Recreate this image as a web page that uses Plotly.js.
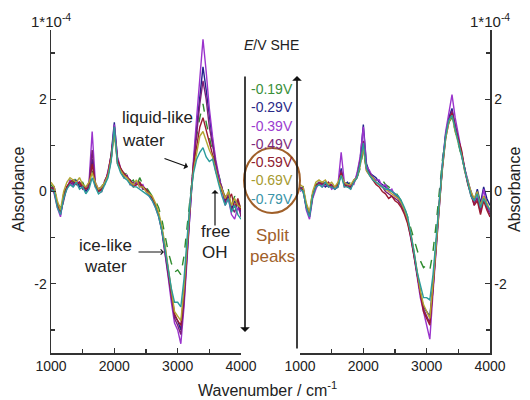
<!DOCTYPE html>
<html><head><meta charset="utf-8">
<script src="https://cdn.plot.ly/plotly-3.0.1.min.js"></script>
<style>html,body{margin:0;padding:0;background:#fff}#chart{width:530px;height:400px}</style>
</head><body><div id="chart"></div>
<script>
// wavenumber grid (cm^-1)
const wavenumber = [1000,1050,1100,1150,1200,1250,1300,1350,1400,1450,
 1500,1550,1600,1650,1700,1750,1800,1850,1900,1950,
 2000,2050,2100,2150,2200,2250,2300,2350,2400,2450,
 2500,2550,2600,2650,2700,2750,2800,2850,2900,2950,
 3000,3050,3100,3150,3200,3250,3300,3350,3400,3450,
 3500,3550,3600,3650,3700,3750,3800,3850,3900,3950,4000];

const potentials = ['-0.19V','-0.29V','-0.39V','-0.49V','-0.59V','-0.69V','-0.79V'];

// Left panel absorbance (1e-4)
const left_019 = [0.15,0.05,-0.25,-0.35,-0.05,0.15,0.25,0.2,0.3,0.15,
 0.2,0.05,0.15,0.5,0.1,0.05,0.1,0.25,0.35,0.7,
 1.35,0.65,0.5,0.35,0.4,0.2,0.25,0.1,0.3,0.15,
 0.1,0.0,-0.1,-0.2,-0.35,-0.6,-0.95,-1.3,-1.55,-1.75,
 -1.7,-1.8,-1.4,-0.8,-0.1,0.6,1.2,1.6,1.9,1.5,
 1.2,0.9,0.55,0.35,0.1,-0.15,0.05,-0.3,-0.1,-0.25,-0.35];
const left_029 = [0.05,0.1,-0.3,-0.5,-0.15,0.1,0.2,0.15,0.25,0.1,
 0.15,0.0,0.1,0.7,0.15,0.0,0.05,0.2,0.4,0.8,
 1.5,0.7,0.45,0.4,0.3,0.25,0.15,0.2,0.15,0.1,
 0.05,-0.05,-0.15,-0.3,-0.5,-0.8,-1.25,-1.75,-2.25,-2.7,
 -2.8,-3.0,-2.3,-1.3,-0.3,0.6,1.4,2.1,2.7,2.2,
 1.6,1.1,0.6,0.3,0.05,-0.2,-0.1,-0.4,-0.2,-0.3,-0.45];
const left_039 = [0.1,-0.05,-0.35,-0.55,-0.1,0.05,0.25,0.1,0.2,0.2,
 0.1,0.05,0.2,1.3,0.2,0.05,0.1,0.15,0.45,0.75,
 1.45,0.75,0.5,0.35,0.35,0.2,0.15,0.2,0.1,0.15,
 0.0,-0.1,-0.2,-0.35,-0.55,-0.85,-1.3,-1.85,-2.4,-2.85,
 -3.0,-3.3,-2.5,-1.4,-0.3,0.7,1.6,2.5,3.3,2.6,
 1.8,1.2,0.7,0.35,0.0,-0.3,-0.15,-0.5,-0.6,-0.35,-0.5];
const left_049 = [0.0,0.1,-0.3,-0.45,-0.2,0.1,0.15,0.2,0.15,0.2,
 0.05,0.1,0.15,0.9,0.1,0.05,0.0,0.25,0.35,0.7,
 1.4,0.6,0.5,0.3,0.35,0.15,0.2,0.15,0.2,0.05,
 0.05,-0.05,-0.15,-0.3,-0.5,-0.85,-1.3,-1.8,-2.3,-2.75,
 -2.9,-3.1,-2.4,-1.3,-0.25,0.6,1.3,1.9,2.4,2.0,
 1.4,1.0,0.6,0.25,0.1,-0.25,-0.05,-0.35,-0.45,-0.2,-0.55];
const left_059 = [0.1,0.0,-0.3,-0.45,-0.1,0.1,0.2,0.25,0.15,0.2,
 0.1,0.05,0.1,0.6,0.15,0.0,0.05,0.2,0.4,0.8,
 1.3,0.7,0.5,0.4,0.3,0.25,0.1,0.15,0.2,0.1,
 0.05,-0.05,-0.15,-0.3,-0.5,-0.8,-1.2,-1.7,-2.2,-2.65,
 -2.8,-2.9,-2.2,-1.2,-0.2,0.55,1.0,1.4,1.6,1.35,
 1.1,0.8,0.45,0.2,0.0,-0.1,-0.2,-0.05,-0.35,-0.15,-0.4];
const left_069 = [0.2,0.1,-0.2,-0.4,0.0,0.2,0.3,0.25,0.2,0.3,
 0.15,0.1,0.2,0.4,0.2,0.05,0.1,0.2,0.35,0.7,
 1.25,0.6,0.45,0.35,0.3,0.2,0.15,0.25,0.1,0.1,
 0.0,-0.05,-0.1,-0.25,-0.45,-0.75,-1.15,-1.65,-2.15,-2.6,
 -2.7,-2.8,-2.1,-1.1,-0.2,0.45,0.85,1.2,1.3,1.1,
 0.9,0.75,0.45,0.2,0.05,-0.15,0.0,-0.3,-0.15,-0.3,-0.35];
const left_079 = [0.05,0.0,-0.35,-0.5,-0.15,0.05,0.15,0.1,0.2,0.05,
 0.1,-0.05,0.05,0.3,0.1,-0.05,0.0,0.15,0.3,0.65,
 1.4,0.6,0.4,0.3,0.25,0.15,0.1,0.1,0.05,0.0,
 -0.05,-0.1,-0.2,-0.35,-0.55,-0.85,-1.25,-1.7,-2.1,-2.4,
 -2.4,-2.5,-1.9,-1.0,-0.15,0.4,0.7,0.85,0.95,0.75,
 0.65,0.7,0.4,0.15,-0.1,-0.3,-0.15,-0.45,-0.3,-0.5,-0.6];

// Right panel absorbance (1e-4)
const right_019 = [0.1,0.0,-0.3,-0.45,0.0,0.15,0.2,0.15,0.25,0.1,
 0.2,0.1,0.15,0.35,0.2,0.15,0.2,0.25,0.3,0.5,
 0.9,0.45,0.35,0.3,0.25,0.2,0.25,0.15,0.1,0.05,
 0.0,-0.1,-0.2,-0.35,-0.55,-0.8,-1.05,-1.3,-1.5,-1.65,
 -1.6,-1.7,-1.3,-0.7,0.0,0.7,1.2,1.5,1.6,1.3,
 1.0,0.75,0.5,0.2,-0.05,-0.2,0.0,-0.3,-0.1,-0.2,-0.35];
const right_029 = [0.05,0.1,-0.35,-0.55,-0.1,0.1,0.15,0.2,0.1,0.15,
 0.1,0.05,0.1,0.5,0.15,0.2,0.1,0.2,0.35,0.7,
 1.45,0.6,0.4,0.35,0.3,0.2,0.15,0.1,0.05,0.0,
 -0.05,-0.15,-0.25,-0.4,-0.6,-0.95,-1.35,-1.8,-2.2,-2.5,
 -2.6,-2.7,-2.0,-1.1,-0.2,0.6,1.25,1.6,1.8,1.4,
 1.1,0.8,0.55,0.2,0.0,-0.2,0.05,-0.25,0.1,-0.15,-0.3];
const right_039 = [0.0,0.05,-0.4,-0.6,-0.15,0.05,0.2,0.1,0.15,0.2,
 0.05,0.1,0.15,0.85,0.2,0.1,0.15,0.15,0.4,0.75,
 1.4,0.55,0.45,0.3,0.25,0.25,0.1,0.15,0.0,0.05,
 -0.1,-0.15,-0.3,-0.45,-0.65,-1.0,-1.4,-1.85,-2.3,-2.6,
 -2.9,-3.2,-2.2,-1.2,-0.25,0.6,1.3,1.75,2.1,1.6,
 1.25,0.9,0.5,0.25,-0.05,-0.3,-0.1,-0.4,0.05,-0.3,-0.45];
const right_049 = [0.1,0.0,-0.35,-0.5,-0.05,0.1,0.2,0.15,0.2,0.1,
 0.15,0.05,0.1,0.45,0.1,0.15,0.05,0.25,0.3,0.65,
 1.1,0.5,0.4,0.3,0.2,0.15,0.1,0.0,-0.05,-0.1,
 -0.15,-0.2,-0.3,-0.45,-0.65,-0.95,-1.35,-1.8,-2.2,-2.55,
 -2.7,-2.85,-2.1,-1.15,-0.2,0.55,1.2,1.55,1.75,1.45,
 1.15,0.85,0.45,0.2,-0.1,-0.25,-0.15,-0.45,-0.1,-0.35,-0.5];
const right_059 = [0.05,0.05,-0.3,-0.5,-0.1,0.15,0.15,0.2,0.15,0.2,
 0.1,0.1,0.15,0.4,0.15,0.1,0.1,0.2,0.3,0.6,
 1.0,0.45,0.35,0.25,0.15,0.1,0.0,-0.05,-0.15,-0.1,
 -0.2,-0.25,-0.35,-0.5,-0.7,-1.0,-1.4,-1.85,-2.25,-2.6,
 -2.75,-2.9,-2.1,-1.15,-0.2,0.5,1.15,1.5,1.7,1.35,
 1.1,0.9,0.5,0.15,-0.05,-0.3,-0.2,-0.5,-0.2,-0.4,-0.55];
const right_069 = [0.15,0.1,-0.25,-0.45,0.0,0.2,0.25,0.2,0.25,0.15,
 0.2,0.1,0.2,0.35,0.2,0.15,0.15,0.25,0.3,0.55,
 0.95,0.45,0.35,0.3,0.2,0.15,0.1,0.05,0.0,-0.05,
 -0.1,-0.15,-0.25,-0.4,-0.6,-0.9,-1.3,-1.75,-2.15,-2.45,
 -2.6,-2.75,-2.0,-1.1,-0.15,0.55,1.15,1.5,1.65,1.3,
 1.05,0.8,0.45,0.2,0.0,-0.15,0.0,-0.3,-0.1,-0.25,-0.4];
const right_079 = [0.05,0.0,-0.35,-0.55,-0.1,0.1,0.15,0.1,0.2,0.1,
 0.1,0.05,0.1,0.35,0.1,0.1,0.05,0.2,0.3,0.6,
 1.05,0.5,0.35,0.25,0.2,0.15,0.1,0.05,0.05,0.0,
 -0.05,-0.1,-0.2,-0.35,-0.55,-0.9,-1.3,-1.75,-2.05,-2.3,
 -2.3,-2.35,-1.8,-0.95,-0.1,0.6,1.2,1.55,1.65,1.35,
 1.1,0.8,0.45,0.15,-0.1,-0.2,-0.05,-0.35,-0.15,-0.3,-0.4];

const leftSeries = [left_019,left_029,left_039,left_049,left_059,left_069,left_079];
const rightSeries = [right_019,right_029,right_039,right_049,right_059,right_069,right_079];
const lineColors = ['#2e8b2e','#22228c','#9a33cc','#7b1f78','#9b1b30','#b3a632','#2b9c9c'];
const labelColors = ['#3a8f3a','#2a2a88','#9b3ccf','#7e2a7c','#8e2030','#a69a30','#3a94a8'];

const traces = [];
leftSeries.forEach((ys,k)=>traces.push({x:wavenumber,y:ys,xaxis:'x',yaxis:'y',type:'scatter',mode:'lines',
  line:{color:lineColors[k],width:1.4,dash:k===0?'dash':'solid'},name:potentials[k],hoverinfo:'skip'}));
rightSeries.forEach((ys,k)=>traces.push({x:wavenumber,y:ys,xaxis:'x2',yaxis:'y2',type:'scatter',mode:'lines',
  line:{color:lineColors[k],width:1.4,dash:k===0?'dash':'solid'},name:potentials[k],hoverinfo:'skip'}));

const W=530,H=400;
const PX=v=>v/W, PY=v=>1-v/H;
const axisCommon = {showline:true,linecolor:'#333',linewidth:1.5,showgrid:false,zeroline:false,
  ticks:'inside',ticklen:5,tickwidth:1.2,tickcolor:'#333',tickfont:{size:14,color:'#222'}};
const xCommon = Object.assign({},axisCommon,{range:[1000,4000],tickmode:'linear',tick0:1000,dtick:1000,
  minor:{dtick:500,tick0:1000,ticks:'inside',ticklen:4,tickcolor:'#333',tickwidth:1.2}});
const yCommon = Object.assign({},axisCommon,{range:[-3.5,3.5],domain:[PY(353),PY(30)],
  tickmode:'array',tickvals:[-2,0,2],ticktext:['-2','0','2'],
  minor:{tickmode:'array',tickvals:[-3,-1,1,3],ticks:'inside',ticklen:4,tickcolor:'#333',tickwidth:1.2}});

const ann = [];
const txt=(x,y,t,size,color,extra)=>ann.push(Object.assign({xref:'paper',yref:'paper',x:PX(x),y:PY(y),text:t,showarrow:false,
  font:{size:size,color:color||'#222'},xanchor:'center',yanchor:'middle'},extra||{}));
txt(51,21,'1*10<sup>-4</sup>',15);
txt(490,21,'1*10<sup>-4</sup>',15);
txt(18,190,'Absorbance',16,'#222',{textangle:-90});
txt(514,190,'Absorbance',16,'#222',{textangle:-90});
txt(267,389,'Wavenumber / cm<sup>-1</sup>',16);
txt(271,45,'<i>E</i>/V SHE',14);
potentials.forEach((p,k)=>txt(272,89+18.3*k,p,14,labelColors[k]));
txt(272,235,'Split',17,'#a0602a');
txt(272,256,'peaks',17,'#a0602a');
txt(120,118,'liquid-like',17,'#222',{xanchor:'left'});
txt(120,140,'water',17,'#222',{xanchor:'left'});
txt(105,245,'ice-like',17);
txt(105,266,'water',17);
txt(215,231,'free',17);
txt(215,253,'OH',17);
// arrows
const arrow=(x0,y0,x1,y1,head,w)=>ann.push({xref:'paper',yref:'paper',x:PX(x1),y:PY(y1),ax:x0-x1,ay:y0-y1,
  axref:'pixel',ayref:'pixel',text:'',showarrow:true,arrowhead:head,arrowsize:1,arrowwidth:w,arrowcolor:'#111'});
arrow(163,158,188,167,1,1.2);
arrow(137,252,164,252,4,1);
arrow(215,227,215,190,1,1.2);
arrow(245,75,245,332,1,1.6);
arrow(297,350,297,76,1,1.6);

const layout = {width:W,height:H,margin:{l:0,r:0,t:0,b:0},paper_bgcolor:'#fff',plot_bgcolor:'rgba(0,0,0,0)',
  showlegend:false,font:{family:'"Liberation Sans", Arial, sans-serif',color:'#222',size:14},
  xaxis:Object.assign({},xCommon,{domain:[PX(51),PX(241)],anchor:'y'}),
  xaxis2:Object.assign({},xCommon,{domain:[PX(300),PX(490)],anchor:'y2'}),
  yaxis:Object.assign({},yCommon,{anchor:'x',side:'left'}),
  yaxis2:Object.assign({},yCommon,{anchor:'x2',side:'right'}),
  annotations:ann,
  shapes:[{type:'circle',xref:'paper',yref:'paper',x0:PX(244),x1:PX(300),y0:PY(213),y1:PY(148),
    line:{color:'#a0602a',width:2}}]
};
Plotly.newPlot('chart',traces,layout,{staticPlot:true,displayModeBar:false});
</script></body></html>
